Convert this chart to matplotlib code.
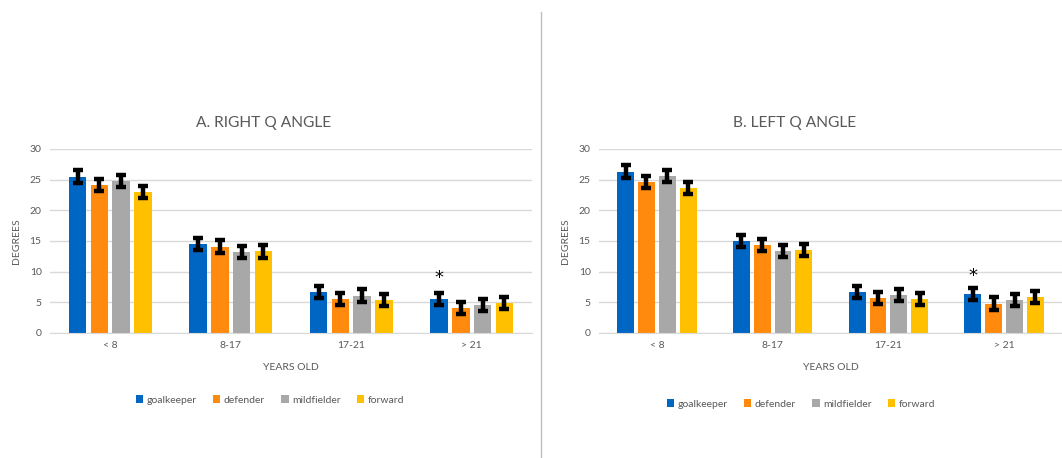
import matplotlib
matplotlib.use("Agg")
import matplotlib.pyplot as plt
import numpy as np

categories = ["< 8", "8-17", "17-21", "> 21"]
positions = ["goalkeeper", "defender", "mildfielder", "forward"]
colors = ["#0066C4", "#FF8A0E", "#A8A8A8", "#FFC000"]

right_q = {
    "goalkeeper": [25.5, 14.5, 6.7, 5.6],
    "defender": [24.1, 14.1, 5.5, 4.1],
    "mildfielder": [24.8, 13.2, 6.1, 4.6],
    "forward": [23.0, 13.3, 5.4, 4.9],
}
right_err = {
    "goalkeeper": [1.1, 1.0, 1.0, 1.0],
    "defender": [1.0, 1.0, 1.0, 1.0],
    "mildfielder": [1.0, 1.0, 1.0, 1.0],
    "forward": [1.0, 1.0, 1.0, 1.0],
}
left_q = {
    "goalkeeper": [26.3, 15.0, 6.7, 6.4],
    "defender": [24.6, 14.3, 5.7, 4.8],
    "mildfielder": [25.6, 13.4, 6.2, 5.4],
    "forward": [23.6, 13.5, 5.5, 5.9],
}
left_err = {
    "goalkeeper": [1.1, 1.0, 1.0, 1.0],
    "defender": [1.0, 1.0, 1.0, 1.0],
    "mildfielder": [1.0, 1.0, 1.0, 1.0],
    "forward": [1.0, 1.0, 1.0, 1.0],
}

plt.rcParams["font.family"] = ["Lato", "DejaVu Sans"]
TXT = "#595959"
W, H = 1062, 458


def draw_panel(ax, values, errors, title, star_y, center_px):
    x = np.arange(len(categories))
    w = 0.145
    step = 0.18
    for i, p in enumerate(positions):
        xs = x + (i - 1.5) * step
        ax.bar(xs, values[p], w, color=colors[i], label=p, zorder=2)
        ax.errorbar(xs, values[p], yerr=errors[p], fmt="none", ecolor="black",
                    elinewidth=3.2, capsize=3.5, capthick=3.2, zorder=3)
    # significance mark above goalkeeper > 21
    ax.text(x[3] - 1.5 * step, star_y, "*", ha="center", va="center",
            fontsize=13, color="black", family="DejaVu Sans")
    ax.set_xlim(-0.5, len(categories) - 0.5)
    ax.set_ylim(0, 30)
    ax.set_yticks(range(0, 31, 5))
    ax.set_xticks(x)
    ax.set_xticklabels(categories)
    ax.yaxis.grid(True, color="#D9D9D9", linewidth=1, zorder=0)
    ax.tick_params(length=0, labelsize=7.5, colors=TXT, pad=6)
    for s in ["top", "right", "left"]:
        ax.spines[s].set_visible(False)
    ax.spines["bottom"].set_color("#D9D9D9")
    ax.set_ylabel("DEGREES", fontsize=7.5, color=TXT, labelpad=6)
    ax.set_xlabel("YEARS OLD", fontsize=7.5, color=TXT, labelpad=9)
    # title centred on the whole chart area, as Excel does
    fig.text(center_px / W, 1 - 123 / H, title, ha="center", va="center",
             fontsize=11.2, color=TXT)


fig = plt.figure(figsize=(W / 100, H / 100), dpi=100)
ax1 = fig.add_axes([50 / W, 1 - 333 / H, 482 / W, 184 / H])
ax2 = fig.add_axes([599 / W, 1 - 333 / H, 463 / W, 184 / H])

draw_panel(ax1, right_q, right_err, "A. RIGHT Q ANGLE", 8.9, 264)
draw_panel(ax2, left_q, left_err, "B. LEFT Q ANGLE", 9.3, 795)

for ax, cx, ly in [(ax1, 270, 400), (ax2, 801, 404)]:
    ax.legend(loc="center", bbox_to_anchor=(cx / W, 1 - ly / H),
              bbox_transform=fig.transFigure,
              ncol=4, frameon=False, fontsize=7.5, handlelength=0.7,
              handleheight=0.7, handletextpad=0.3, columnspacing=1.6,
              labelcolor=TXT)

# separator line between panels
fig.add_artist(plt.Line2D([541 / W, 541 / W], [0, 1 - 12 / H],
                          color="#BFBFBF", linewidth=1))

fig.savefig("out.png", dpi=100)
